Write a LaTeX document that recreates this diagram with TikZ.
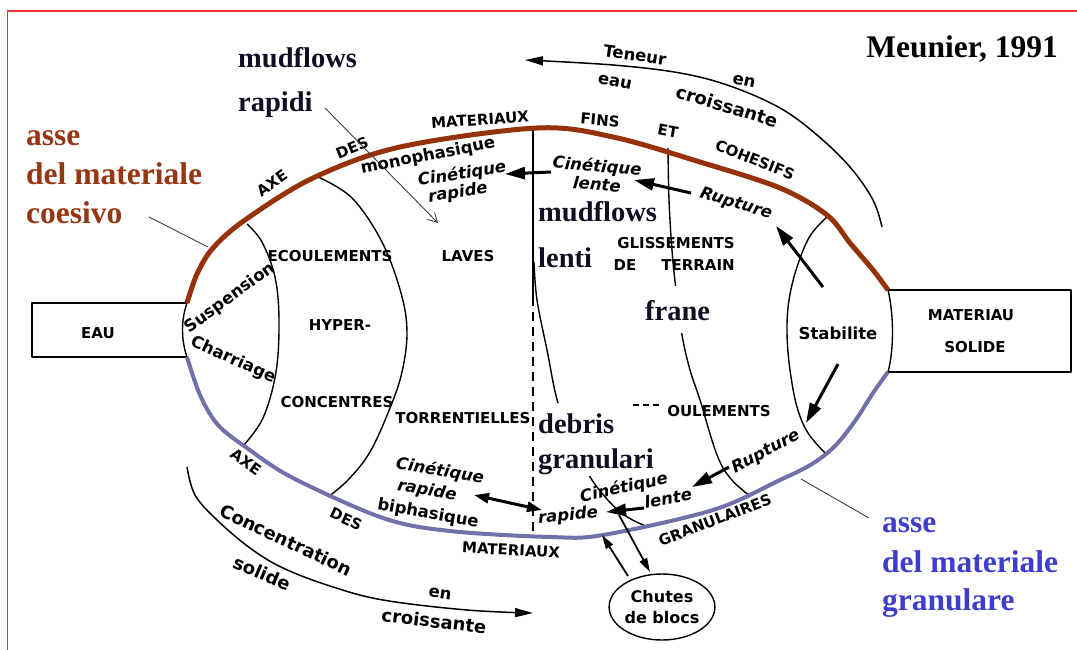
\documentclass[tikz,border=0pt]{standalone}
\usepackage{fontspec}
\setmainfont{Liberation Serif}
\newfontfamily\dv{DejaVu Sans}
\usetikzlibrary{arrows.meta,shapes.geometric}
\definecolor{axbrown}{RGB}{150,50,10}
\definecolor{axblue}{RGB}{112,112,170}
\definecolor{lblbrown}{RGB}{150,55,20}
\definecolor{lblblue}{RGB}{62,62,205}
\definecolor{framered}{RGB}{240,50,50}
\definecolor{labdark}{RGB}{15,15,35}
\tikzset{
 thinline/.style={line width=1.4pt, line join=round},
 brownaxis/.style={draw=axbrown, line width=5pt},
 blueaxis/.style={draw=axblue, line width=4pt},
 fat/.style={line width=3pt, -{Triangle[length=20pt,width=12pt]}},
 fatboth/.style={line width=3pt, {Triangle[length=15pt,width=10pt]}-{Triangle[length=15pt,width=10pt]}},
 midarrow/.style={line width=1.8pt, -{Triangle[length=14pt,width=8pt]}},
 trendarrow/.style={line width=1.5pt, -{Triangle[length=18pt,width=9pt]}},
 leader/.style={line width=0.9pt, draw=black!75},
 caps/.style={font=\dv\bfseries\fontsize{15}{15}\selectfont, inner sep=0pt},
 lower/.style={font=\dv\bfseries\fontsize{16.5}{16.5}\selectfont, inner sep=0pt},
 ital/.style={font=\dv\bfseries\itshape\fontsize{16.5}{16.5}\selectfont, inner sep=0pt},
 big/.style={font=\dv\bfseries\fontsize{18}{18}\selectfont, inner sep=0pt},
 ita/.style={font=\bfseries\fontsize{28.5}{28.5}\selectfont, text=labdark, inner sep=0pt, anchor=base west},
 axlab/.style={font=\bfseries\fontsize{31.5}{31.5}\selectfont, inner sep=0pt, anchor=base west},
}
\begin{document}
\begin{tikzpicture}[x=1pt,y=-1pt]
\useasboundingbox (0,0) rectangle (1077,650);
% frame
\draw[framered, line width=1.2pt] (7.5,650) -- (7.5,11) -- (1077,11);

% boxes
\coordinate (eauTR) at (187,303);
\coordinate (eauBR) at (187,357);
\draw[thinline] (eauTR) -- (32,303) -- (32,357) -- (eauBR);
\coordinate (matTL) at (888,290);
\coordinate (matBL) at (888,372);
\draw[thinline] (matTL) -- (1071,290) -- (1071,372) -- (matBL);
\node[caps] (eau) at (98,333) {EAU};
\node[caps] (mat1) at (971,315) {MATERIAU};
\node[caps] (mat2) at (975,347) {SOLIDE};

% end arcs
\draw[thinline] (eauTR) .. controls (181,320) and (181,340) .. (eauBR);
\draw[thinline] (matTL) .. controls (894,315) and (894,350) .. (matBL);

% inner curves
\draw[thinline] plot[smooth, tension=0.6] coordinates {(247,224) (262,242) (275,277) (279,320) (276,372) (263,418) (243,446)};
\draw[thinline] plot[smooth, tension=0.6] coordinates {(318,177) (352,198) (382,242) (401,293) (407,332) (402,372) (390,408) (370,452) (348,480) (328,497)};
\draw[thinline] (533,128) -- (533,297);
\draw[thinline, dash pattern=on 9pt off 6pt] (533,297) -- (533,532);
\draw[thinline] plot[smooth, tension=0.6] coordinates {(534,262) (537,300) (547,350) (558,403) (575,445) (592,480) (620,512) (648,527)};
\draw[thinline] plot[smooth, tension=0.6] coordinates {(668,148) (669,200) (672,250) (676,290) (682,335) (690,370) (700,400) (717,455) (731,479) (750,496)};
\draw[thinline] plot[smooth, tension=0.6] coordinates {(828,216) (810,236) (797,267) (789,300) (787,333) (790,370) (797,407) (808,433) (826,454)};

% axes
\draw[brownaxis] plot[smooth, tension=0.55] coordinates {(187,303) (197,274) (213,248) (245,220) (313,178) (400,147) (537,128) (613,137) (700,162) (780,188) (827,215) (850,243) (873,270) (888,290)};
\draw[blueaxis] plot[smooth, tension=0.55] coordinates {(187,357) (200,395) (218,425) (247,448) (293,478) (383,518) (450,531) (550,537) (603,535) (713,510) (780,480) (812,464) (835,446) (855,421) (873,393) (888,372)};

% white boxes of the overlaid labels
\fill[white] (633,286) rectangle (723,333);
\fill[white] (537,403) rectangle (662,476);
\draw[line width=1.2pt, dash pattern=on 6pt off 4pt] (633,405) -- (662,405);

% trend arrows
\draw[trendarrow] plot[smooth, tension=0.6] coordinates {(882,227) (873,200) (850,167) (817,135) (780,108) (730,86) (680,73) (613,65) (525,60)};
\draw[trendarrow] plot[smooth, tension=0.6] coordinates {(187,467) (195,495) (217,520) (250,548) (283,568) (330,586) (383,600) (467,610) (533,613)};
\node[lower, rotate=-8] (ten) at (635,55) {Teneur};
\node[lower, rotate=-10] (teau) at (615,82) {eau};
\node[lower, rotate=-12] (ten2) at (744,81) {en};
\node[big, rotate=-17] (tcr) at (727,106) {croissante};
\node[big, rotate=-25] (conc) at (286,540) {Concentration};
\node[big, rotate=-23] (sol) at (262,573) {solide};
\node[lower, rotate=-8] (cen) at (440,594) {en};
\node[big, rotate=-7] (ccr) at (434,621) {croissante};

% axis labels
\node[caps, rotate=35] (axe1) at (272,183) {AXE};
\node[caps, rotate=22] (des1) at (352,148) {DES};
\node[caps, rotate=4] (mx1) at (480,120) {MATERIAUX};
\node[caps, rotate=-5] (fins) at (600,120) {FINS};
\node[caps, rotate=-10] (et) at (668,131) {ET};
\node[caps, rotate=-22] (coh) at (755,160) {COHESIFS};
\node[caps, rotate=-35] (axe2) at (246,462) {AXE};
\node[caps, rotate=-25] (des2) at (346,519) {DES};
\node[caps, rotate=-3] (mx2) at (511,550) {MATERIAUX};
\node[caps, rotate=21] (gran) at (715,520) {GRANULAIRES};

% domain labels
\node[caps] (ecou) at (330,256) {ECOULEMENTS};
\node[caps] (hyper) at (340,325) {HYPER-};
\node[caps] (conce) at (337,402) {CONCENTRES};
\node[caps] (laves) at (468,256) {LAVES};
\node[caps] (torr) at (463,418) {TORRENTIELLES};
\node[caps] (gliss) at (676,243) {GLISSEMENTS};
\node[caps] (de) at (625,265) {DE};
\node[caps] (terr) at (698,265) {TERRAIN};
\node[caps] (oul) at (719,411) {OULEMENTS};
\node[lower] (stab) at (838,333) {Stabilite};
\node[lower, rotate=36] (susp) at (230,298) {Suspension};
\node[lower, rotate=-24] (charr) at (233,360) {Charriage};
\node[lower, rotate=11] (mono) at (428,156) {monophasique};
\node[ital, rotate=9] (cr1) at (462,174) {Cinétique};
\node[ital, rotate=9] (cr2) at (458,193) {rapide};
\node[ital, rotate=-5] (cl1) at (597,167) {Cinétique};
\node[ital, rotate=-5] (cl2) at (597,184) {lente};
\node[ital, rotate=-17] (rup1) at (736,204) {Rupture};
\node[ital, rotate=-10] (br1) at (440,471) {Cinétique};
\node[ital, rotate=-10] (br2) at (427,491) {rapide};
\node[lower, rotate=-10] (br3) at (428,514) {biphasique};
\node[ital, rotate=5] (rap) at (568,516) {rapide};
\node[ital, rotate=12] (bl1) at (624,488) {Cinétique};
\node[ital, rotate=10] (bl2) at (668,498) {lente};
\node[ital, rotate=28] (rup2) at (766,452) {Rupture};
\node[draw, thinline, ellipse, minimum width=105pt, minimum height=66pt, inner sep=0pt,
      font=\dv\bfseries\fontsize{16}{21}\selectfont, align=center] (chutes) at (662,607) {Chutes\\de blocs};

% process arrows
\coordinate (a1s) at (551,172); \coordinate (a1e) at (505,174);
\draw[fat] (a1s) -- (a1e);
\coordinate (a2s) at (691,193); \coordinate (a2e) at (634,180);
\draw[fat] (a2s) -- (a2e);
\coordinate (a3s) at (823,287); \coordinate (a3e) at (776,226);
\draw[fat] (a3s) -- (a3e);
\coordinate (a4s) at (838,364); \coordinate (a4e) at (806,423);
\draw[fat] (a4s) -- (a4e);
\coordinate (a5s) at (729,467); \coordinate (a5e) at (692,487);
\draw[fat] (a5s) -- (a5e);
\coordinate (a6s) at (644,508); \coordinate (a6e) at (606,512);
\draw[fat] (a6s) -- (a6e);
\coordinate (a7s) at (474,495); \coordinate (a7e) at (542,510);
\draw[fatboth] (a7s) -- (a7e);
\coordinate (a8s) at (619,515); \coordinate (a8e) at (650,572);
\draw[midarrow] (a8s) -- (a8e);
\coordinate (a9s) at (628,576); \coordinate (a9e) at (602,535);
\draw[midarrow] (a9s) -- (a9e);

% overlaid Italian labels
\node[ita] (mr1) at (238,68) {mudflows};
\node[ita] (mr2) at (238,112) {rapidi};
\coordinate (mrs) at (325,108); \coordinate (mrtip) at (438,223);
\draw[leader, -{Straight Barb[length=9pt,width=10pt]}] (mrs) -- (mrtip);
\node[ita] (ml1) at (538,222) {mudflows};
\node[ita] (ml2) at (538,267) {lenti};
\node[ita] (fr) at (645,320) {frane};
\node[ita] (db1) at (538,433) {debris};
\node[ita] (db2) at (538,468) {granulari};
\node[axlab, text=lblbrown] (ab1) at (26,146) {asse};
\node[axlab, text=lblbrown] (ab2) at (26,185) {del materiale};
\node[axlab, text=lblbrown] (ab3) at (26,223) {coesivo};
\coordinate (abs) at (149,217); \coordinate (abtip) at (208,247);
\draw[leader] (abs) -- (abtip);
\node[axlab, text=lblblue] (ag1) at (882,532) {asse};
\node[axlab, text=lblblue] (ag2) at (882,572) {del materiale};
\node[axlab, text=lblblue] (ag3) at (882,610) {granulare};
\coordinate (ags) at (869,518); \coordinate (agtip) at (801,479);
\draw[leader] (ags) -- (agtip);
\node[font=\bfseries\fontsize{31.5}{31.5}\selectfont, inner sep=0pt, anchor=base east] (meu) at (1058,58) {Meunier, 1991};
\end{tikzpicture}
\end{document}
